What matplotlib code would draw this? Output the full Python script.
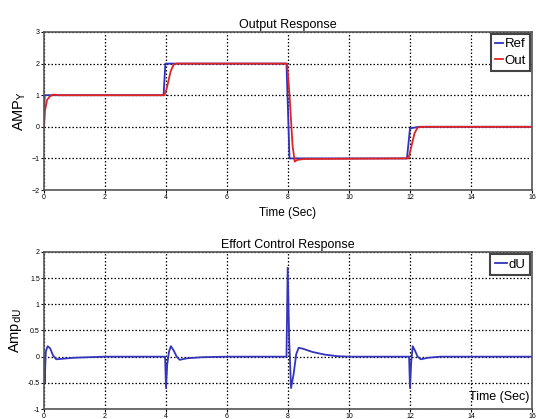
import matplotlib
matplotlib.use("Agg")
import matplotlib.pyplot as plt

plt.rcParams["font.family"] = ["Liberation Sans", "DejaVu Sans"]

# reference signal (blue) breakpoints
ref_t = [0.0, 0.02, 0.9, 3.92, 3.98, 4.4, 7.95, 8.05, 11.9, 12.0, 12.3, 16.0]
ref_y = [0.0, 1.0, 1.0, 1.0, 2.0, 2.0, 2.0, -1.0, -1.0, -0.05, 0.0, 0.0]

# plant output (red) breakpoints
out_t = [0.0, 0.03, 0.1, 0.2, 0.3, 0.5, 3.95, 4.02, 4.15, 4.25, 4.35, 7.97, 8.05, 8.15, 8.22, 8.3, 8.5,
         11.95, 12.05, 12.15, 12.25, 12.4, 16.0]
out_y = [0.0, 0.5, 0.85, 0.97, 1.02, 1.0, 1.0, 1.2, 1.75, 1.97, 2.0, 2.0, 1.0, -0.6, -1.1, -1.05, -1.02,
         -1.0, -0.6, -0.2, -0.02, 0.0, 0.0]

# control effort dU breakpoints
du_t = [0.0, 0.02, 0.06, 0.12, 0.2, 0.3, 0.4, 0.6, 1.0, 2.0,
        3.97, 4.0, 4.04, 4.1, 4.16, 4.25, 4.35, 4.45, 4.7, 5.2, 6.0,
        7.95, 7.99, 8.04, 8.1, 8.18, 8.27, 8.35, 8.5, 8.8, 9.2, 9.6, 10.0,
        11.97, 12.0, 12.04, 12.09, 12.16, 12.25, 12.35, 12.6, 13.0, 16.0]
du_y = [0.0, -0.5, 0.1, 0.2, 0.16, 0.02, -0.05, -0.04, -0.02, 0.0,
        0.0, -0.6, -0.15, 0.1, 0.2, 0.12, 0.0, -0.06, -0.03, -0.01, 0.0,
        0.0, 1.7, 0.3, -0.6, -0.35, 0.05, 0.17, 0.15, 0.09, 0.04, 0.01, 0.0,
        0.0, -0.6, -0.1, 0.2, 0.12, 0.0, -0.05, -0.02, 0.0, 0.0]

fig = plt.figure(figsize=(5.36, 4.19), dpi=100)
ax1 = fig.add_axes([44 / 536, 1 - 190 / 419, 488 / 536, 158 / 419])
ax2 = fig.add_axes([44 / 536, 1 - 409 / 419, 488 / 536, 157 / 419])

ax1.plot(ref_t, ref_y, color="#2f2fc0", lw=1.3, label="Ref")
ax1.plot(out_t, out_y, color="#e02424", lw=1.3, label="Out")
ax1.set_xlim(0, 16)
ax1.set_ylim(-2, 3)
ax1.set_xticks(range(0, 17, 2))
ax1.set_yticks(range(-2, 4))
ax1.set_title("Output Response", fontsize=9, pad=3)
ax1.set_xlabel("Time (Sec)", fontsize=8.5, labelpad=4)
ax1.set_ylabel("AMP$_{\\mathrm{Y}}$", fontsize=10.5, labelpad=3)
leg1 = ax1.legend(loc="upper right", fontsize=9.5, handlelength=0.6, handletextpad=0.15,
                  borderpad=0.3, labelspacing=0.35, fancybox=False, borderaxespad=0.15)

ax2.plot(du_t, du_y, color="#3434bc", lw=1.3, label="dU")
ax2.set_xlim(0, 16)
ax2.set_ylim(-1, 2)
ax2.set_xticks(range(0, 17, 2))
ax2.set_yticks([-1, -0.5, 0, 0.5, 1, 1.5, 2])
ax2.set_yticklabels(["-1", "-0.5", "0", "0.5", "1", "1.5", "2"])
ax2.set_title("Effort Control Response", fontsize=9, pad=3)
ax2.set_ylabel("Amp$_{\\mathrm{dU}}$", fontsize=10.5, labelpad=3)
ax2.text(0.995, 0.04, "Time (Sec)", transform=ax2.transAxes, ha="right", va="bottom", fontsize=9)
leg2 = ax2.legend(loc="upper right", fontsize=9.5, handlelength=0.9, handletextpad=0.15,
                  borderpad=0.35, fancybox=False, borderaxespad=0.15)

for ax, leg in ((ax1, leg1), (ax2, leg2)):
    ax.grid(True, color="black", linestyle=(0, (1.2, 1.6)), linewidth=0.9)
    ax.tick_params(labelsize=5, length=2, pad=1)
    for s in ax.spines.values():
        s.set_color("#555555")
        s.set_linewidth(1.2)
    leg.get_frame().set_edgecolor("#444444")
    leg.get_frame().set_linewidth(1.5)
    leg.get_frame().set_alpha(1)

fig.savefig("out.png", dpi=100)
